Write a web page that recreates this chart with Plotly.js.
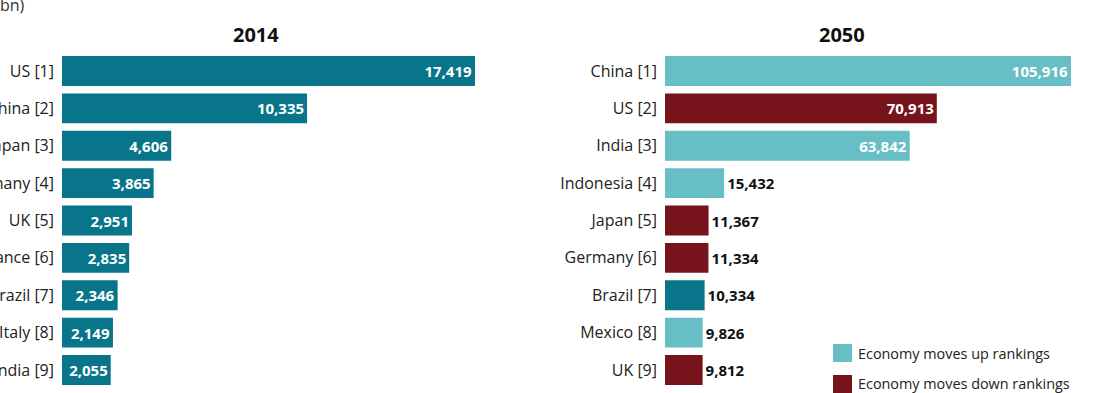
<!DOCTYPE html>
<html>
<head>
<meta charset="utf-8">
<script src="https://cdn.plot.ly/plotly-3.0.1.min.js"></script>
<style>html,body{margin:0;padding:0;background:#fff;}#chart{width:1108px;height:393px;}</style>
</head>
<body>
<div id="chart"></div>
<script>
// ---- Data ----
const countries2014 = ['US', 'China', 'Japan', 'Germany', 'UK', 'France', 'Brazil', 'Italy', 'India'];
const gdp2014 = [17419, 10335, 4606, 3865, 2951, 2835, 2346, 2149, 2055];
const countries2050 = ['China', 'US', 'India', 'Indonesia', 'Japan', 'Germany', 'Brazil', 'Mexico', 'UK'];
const gdp2050 = [105916, 70913, 63842, 15432, 11367, 11334, 10334, 9826, 9812];
const rankMove2050 = ['up', 'down', 'up', 'up', 'down', 'down', 'same', 'up', 'down'];
const panelTitles = ['2014', '2050'];
const legendLabels = ['Economy moves up rankings', 'Economy moves down rankings'];
const unitLabel = 'GDP at PPP (constant 2014 US$ bn)';

// ---- Styles ----
const FONT = 'Open Sans, DejaVu Sans, sans-serif';
const colors = {same: '#08758a', up: '#68bec5', down: '#77131b'};
const W = 1108, H = 393;

const labels2014 = countries2014.map((c, i) => c + ' [' + (i + 1) + ']');
const labels2050 = countries2050.map((c, i) => c + ' [' + (i + 1) + ']');

const trace2014 = {
  type: 'bar', orientation: 'h',
  x: gdp2014, y: labels2014,
  xaxis: 'x', yaxis: 'y',
  marker: {color: colors.same},
  texttemplate: '%{x:,}',
  textposition: 'inside',
  insidetextanchor: 'end',
  constraintext: 'none',
  textfont: {family: FONT, size: 15, weight: 'bold', color: '#ffffff'},
  hoverinfo: 'x+y'
};

const pos2050 = gdp2050.map(v => v > 40000 ? 'inside' : 'outside');
const trace2050 = {
  type: 'bar', orientation: 'h',
  x: gdp2050, y: labels2050,
  xaxis: 'x2', yaxis: 'y2',
  marker: {color: rankMove2050.map(m => colors[m])},
  texttemplate: '%{x:,}',
  textposition: pos2050,
  insidetextanchor: 'end',
  constraintext: 'none',
  insidetextfont: {family: FONT, size: 15, weight: 'bold', color: '#ffffff'},
  outsidetextfont: {family: FONT, size: 15, weight: 'bold', color: '#111111'},
  cliponaxis: false,
  hoverinfo: 'x+y'
};

const yDomain = [(H - 388.7) / H, (H - 52.3) / H];
const yAxisBase = {
  type: 'category', domain: yDomain, range: [8.5, -0.5],
  showgrid: false, zeroline: false, showline: false, ticks: '',
  ticklabelstandoff: 7, automargin: false,
  tickfont: {family: FONT, size: 16, color: '#222222'}
};
const xAxisBase = {showgrid: false, zeroline: false, showline: false, showticklabels: false, ticks: ''};

const layout = {
  width: W, height: H,
  margin: {l: 0, r: 0, t: 0, b: 0, pad: 0},
  paper_bgcolor: '#ffffff', plot_bgcolor: '#ffffff',
  showlegend: false, bargap: 0.2,
  font: {family: FONT, color: '#222222'},
  xaxis: Object.assign({}, xAxisBase, {domain: [62 / W, 500 / W], range: [0, 18473], anchor: 'y'}),
  yaxis: Object.assign({}, yAxisBase, {anchor: 'x'}),
  xaxis2: Object.assign({}, xAxisBase, {domain: [665 / W, 1100 / W], range: [0, 113488], anchor: 'y2'}),
  yaxis2: Object.assign({}, yAxisBase, {anchor: 'x2'}),
  annotations: [
    {xref: 'paper', yref: 'paper', x: 256 / W, y: (H - 35) / H, text: '<b>' + panelTitles[0] + '</b>', showarrow: false,
     xanchor: 'center', yanchor: 'middle', font: {family: FONT, size: 20, color: '#111111'}},
    {xref: 'paper', yref: 'paper', x: 842 / W, y: (H - 35) / H, text: '<b>' + panelTitles[1] + '</b>', showarrow: false,
     xanchor: 'center', yanchor: 'middle', font: {family: FONT, size: 20, color: '#111111'}},
    {xref: 'paper', yref: 'paper', x: 27 / W, y: (H - 5) / H, text: unitLabel, showarrow: false,
     xanchor: 'right', yanchor: 'middle', font: {family: FONT, size: 16, color: '#333333'}},
    {xref: 'paper', yref: 'paper', x: 856 / W, y: (H - 353) / H, text: legendLabels[0], showarrow: false,
     xanchor: 'left', yanchor: 'middle', font: {family: FONT, size: 14.4, color: '#222222'}},
    {xref: 'paper', yref: 'paper', x: 856 / W, y: (H - 383) / H, text: legendLabels[1], showarrow: false,
     xanchor: 'left', yanchor: 'middle', font: {family: FONT, size: 14.4, color: '#222222'}}
  ],
  shapes: [
    {type: 'rect', xref: 'paper', yref: 'paper', x0: 833 / W, x1: 852 / W, y0: (H - 362) / H, y1: (H - 344) / H,
     fillcolor: colors.up, line: {width: 0}},
    {type: 'rect', xref: 'paper', yref: 'paper', x0: 833 / W, x1: 852 / W, y0: (H - 393) / H, y1: (H - 375) / H,
     fillcolor: colors.down, line: {width: 0}}
  ]
};

Plotly.newPlot('chart', [trace2014, trace2050], layout, {displayModeBar: false, staticPlot: true});
</script>
</body>
</html>
